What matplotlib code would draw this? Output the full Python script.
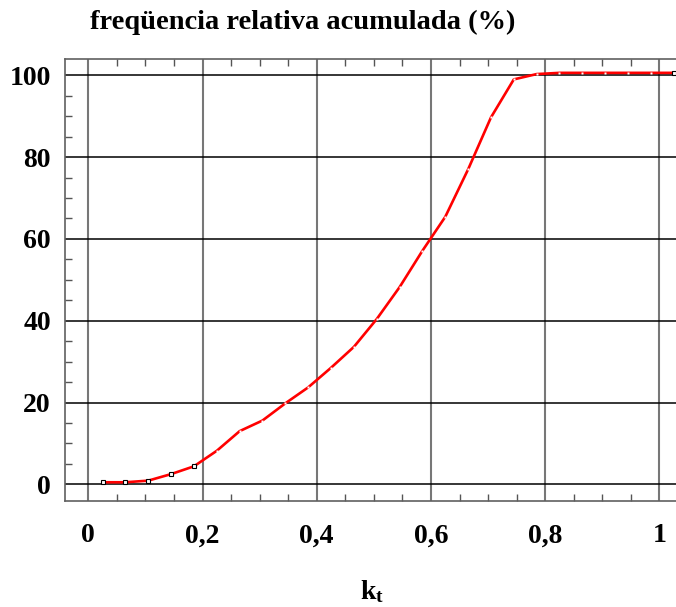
import numpy as np
import matplotlib
matplotlib.use("Agg")
import matplotlib.pyplot as plt
from matplotlib.ticker import MultipleLocator, FuncFormatter

# class midpoints of kt and cumulative relative frequency (%)
kt = [0.025, 0.065, 0.105, 0.145, 0.185, 0.225, 0.265, 0.305, 0.345,
      0.385, 0.425, 0.465, 0.505, 0.545, 0.585, 0.625, 0.665, 0.705,
      0.745, 0.785, 0.825, 0.865, 0.905, 0.945, 0.985, 1.025]
freq_acum = [0.5, 0.5, 0.9, 2.5, 4.4, 8.2, 13.0, 15.6, 19.8,
             23.7, 28.5, 33.6, 40.4, 48.2, 57.1, 65.4, 77.0, 89.7,
             99.0, 100.3, 100.6, 100.6, 100.6, 100.6, 100.6, 100.6]

xticks = [0, 0.2, 0.4, 0.6, 0.8, 1.0]
yticks = [0, 20, 40, 60, 80, 100]

plt.rcParams['font.family'] = ['Liberation Serif', 'DejaVu Serif']
plt.rcParams['font.weight'] = 'bold'
plt.rcParams['mathtext.fontset'] = 'custom'
plt.rcParams['mathtext.rm'] = 'Liberation Serif:bold'
plt.rcParams['mathtext.bf'] = 'Liberation Serif:bold'
plt.rcParams['mathtext.it'] = 'Liberation Serif:bold'

W, H = 676, 607
fig = plt.figure(figsize=(W / 100, H / 100), dpi=100)
left, right, top, bottom = 64.7, 680, 58.7, 501
ax = fig.add_axes([left / W, 1 - bottom / H, (right - left) / W, (bottom - top) / H])

ax.set_xlim(-0.0413, 1.036)
ax.set_ylim(-4.08, 104.06)

ax.plot(kt, freq_acum, color='red', lw=1.9, zorder=3)
# small point markers at the vertices
ax.plot(kt, freq_acum, ls='none', marker='s', ms=1.7, mfc='white', mec='none', zorder=4)
edge = [0, 1, 2, 3, 4, len(kt) - 1]
ax.plot([kt[i] for i in edge], [freq_acum[i] for i in edge], ls='none',
        marker='s', ms=2.8, mfc='white', mec='black', mew=0.8, zorder=5)

for x in xticks:
    ax.axvline(x, color='#777777', lw=1.5, zorder=1)
for y in yticks:
    ax.axhline(y, color='black', lw=1.1, zorder=1)

ax.set_xticks(xticks)
ax.set_yticks(yticks)
ax.xaxis.set_minor_locator(MultipleLocator(0.05))
ax.yaxis.set_minor_locator(MultipleLocator(5))
ax.xaxis.set_major_formatter(FuncFormatter(lambda v, p: '0' if v == 0 else ('1' if v == 1 else ('%.1f' % v).replace('.', ','))))
ax.yaxis.set_major_formatter(FuncFormatter(lambda v, p: '%d' % v))

ax.tick_params(which='both', direction='in', top=True, right=False, color='#555555')
ax.tick_params(which='major', length=0, labelsize=20)
ax.tick_params(which='minor', length=5, width=1)
ax.tick_params(axis='x', which='major', pad=16)
ax.tick_params(axis='y', which='major', pad=10)

for s in ax.spines.values():
    s.set_color('#606060')
    s.set_linewidth(1.2)
ax.spines['right'].set_visible(False)

fig.text(90 / W, 1 - 22 / H, 'freqüencia relativa acumulada (%)', fontsize=20.5,
         fontweight='bold', ha='left', va='center')
fig.text(372 / W, 1 - 592 / H, r'$\mathbf{k_t}$', fontsize=20, ha='center', va='center')

fig.savefig('out.png', dpi=100)
